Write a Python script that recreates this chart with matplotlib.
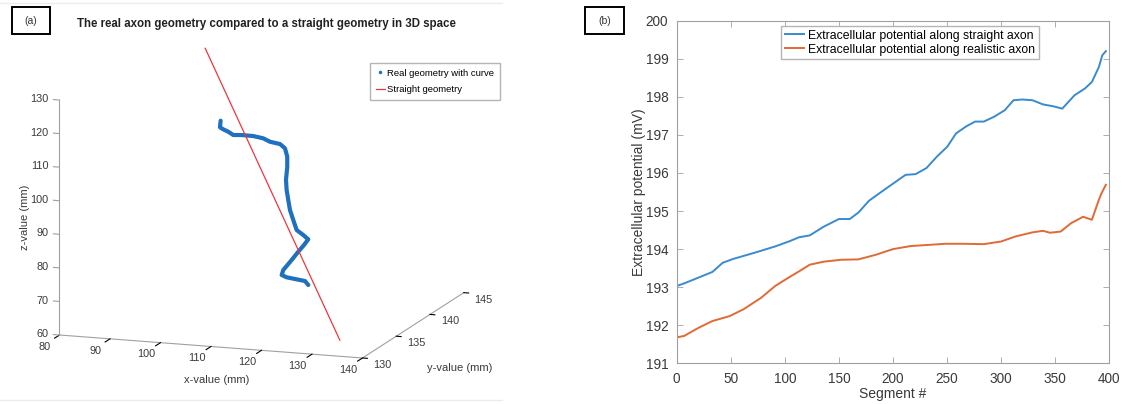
import numpy as np
import matplotlib
matplotlib.use("Agg")
import matplotlib.pyplot as plt
from matplotlib.lines import Line2D
from matplotlib.patches import Rectangle
from mpl_toolkits.mplot3d import proj3d

plt.rcParams["font.family"] = ["Liberation Sans", "DejaVu Sans"]

# ---------------- panel (a): axon geometry in 3D (mm) ----------------
real_x = [102.55, 102.42, 103.07, 104.06, 105.05, 106.71, 109.01, 110.99,
          112.32, 114.30, 115.29, 115.74, 115.74, 115.49, 115.62, 115.94,
          116.28, 116.93, 117.60, 118.91, 119.90, 119.05, 117.92, 116.61,
          114.95, 114.63, 115.62, 117.27, 119.25, 119.90]
real_y = [137.0] * 30
real_z = [117.33, 115.34, 114.82, 114.22, 113.35, 113.54, 113.50, 113.04,
          112.18, 111.72, 110.56, 108.11, 105.13, 101.13, 98.17, 95.23,
          92.29, 89.39, 86.48, 85.14, 83.97, 82.18, 80.05, 77.43,
          74.27, 72.74, 72.17, 71.85, 71.48, 70.36]

straight_x = [91.6, 131.1]
straight_y = [142.9, 133.3]
straight_z = [130.0, 60.0]

x_ticks = [80, 90, 100, 110, 120, 130, 140]
y_ticks = [130, 135, 140, 145]
z_ticks = [60, 70, 80, 90, 100, 110, 120, 130]

# ---------------- panel (b): extracellular potential (mV) ----------------
seg_straight = [0, 7, 20, 33, 42.5, 52, 71.5, 91, 103.7, 113, 123, 136, 150,
                160, 168, 177.8, 194, 211.6, 221, 231, 240.6, 250.2, 258.3,
                268, 276, 284, 293.7, 303.4, 311.4, 319.5, 329, 338.8, 348.5,
                356.5, 367.8, 377.5, 383.9, 390.3, 393.5, 396.8]
pot_straight = [193.03, 193.10, 193.25, 193.40, 193.64, 193.74, 193.90, 194.07,
                194.20, 194.31, 194.36, 194.59, 194.79, 194.79, 194.96, 195.27,
                195.60, 195.95, 195.97, 196.13, 196.43, 196.69, 197.04, 197.23,
                197.35, 197.35, 197.48, 197.65, 197.91, 197.93, 197.91, 197.80,
                197.75, 197.69, 198.04, 198.22, 198.39, 198.78, 199.09, 199.20]

seg_real = [0, 7, 20, 33, 49, 61.8, 78, 91, 100.5, 113.4, 123, 136, 152, 168,
            184, 200, 216.4, 232.5, 248.6, 264.7, 284, 300, 313, 329, 338.8,
            345, 355, 364.6, 375.8, 383.9, 390.3, 392.5, 396.8]
pot_real = [191.68, 191.72, 191.93, 192.11, 192.24, 192.42, 192.72, 193.03,
            193.20, 193.42, 193.59, 193.67, 193.72, 193.73, 193.85, 194.00,
            194.08, 194.11, 194.14, 194.14, 194.13, 194.20, 194.33, 194.44,
            194.48, 194.43, 194.46, 194.68, 194.85, 194.77, 195.29, 195.45,
            195.69]

BLUE = "#1f70bf"
RED = "#e8383d"
LINE_BLUE = "#3a8ad0"
LINE_ORANGE = "#e06a35"
AXIS_GREY = "#a0a0a0"
TEXT_GREY = "#3a3a3a"

W, H = 1125, 404
fig = plt.figure(figsize=(W / 100, H / 100), dpi=100)


def fx(px):
    return px / W


def fy(py):
    return 1 - py / H


# faint frame lines around the left panel
for yy in (3, 400):
    fig.add_artist(Line2D([fx(0), fx(502)], [fy(yy), fy(yy)], color="#ececec", lw=1))

# ---------------- 3D geometry panel ----------------
ax3 = fig.add_axes([0.0, 0.05, 0.42, 0.9], projection="3d", proj_type="ortho")
ax3.view_init(elev=12.78, azim=-71.07)
ax3.set_box_aspect((320.4, 312.3, 241.0))
ax3.set_xlim(80, 140)
ax3.set_ylim(130, 145)
ax3.set_zlim(60, 130)
ax3.set_xticks(x_ticks)
ax3.set_yticks(y_ticks)
ax3.set_zticks(z_ticks)
ax3.zaxis.set_ticks_position("lower")
ax3.zaxis.set_label_position("lower")
ax3.grid(False)
for axis in (ax3.xaxis, ax3.yaxis, ax3.zaxis):
    axis.set_pane_color((1, 1, 1, 0))
    axis.pane.set_edgecolor((1, 1, 1, 0))
    axis.line.set_color(AXIS_GREY)
    axis.line.set_linewidth(0.8)
    axis._axinfo["tick"]["outward_factor"] = 0.0
    axis._axinfo["tick"]["color"] = AXIS_GREY
ax3.xaxis._axinfo["tick"]["inward_factor"] = 0.6
ax3.yaxis._axinfo["tick"]["inward_factor"] = 0.2
ax3.zaxis._axinfo["tick"]["inward_factor"] = 0.0

ax3.plot(real_x, real_y, real_z, color=BLUE, lw=3.0, solid_capstyle="round",
         solid_joinstyle="round")
ax3.plot(straight_x, straight_y, straight_z, color=RED, lw=0.9)

# z tick marks pointing out from the vertical edge
for zv in z_ticks:
    ax3.plot([80, 78.8], [130, 130], [zv, zv], color=AXIS_GREY, lw=0.8)

# the built-in 3D tick labels are replaced by texts placed further down
for axis in (ax3.xaxis, ax3.yaxis, ax3.zaxis):
    axis.set_major_formatter(matplotlib.ticker.NullFormatter())

# place the box so that its corners land on the intended pixel positions
fig.canvas.draw()


def project(pt):
    xs, ys, _ = proj3d.proj_transform(*pt, ax3.M)
    return np.array(ax3.transData.transform((xs, ys)))


target_a = np.array([59.5, H - 335.0])
target_b = np.array([463.8, H - 57.7])
pa = project((80, 130, 60))
pb = project((140, 145, 130))
f = np.linalg.norm(target_b - target_a) / np.linalg.norm(pb - pa)
pos = ax3.get_position(original=True)
c = np.array([(pos.x0 + pos.width / 2) * W, (pos.y0 + pos.height / 2) * H])
c_new = target_a - f * (pa - c)
w_new, h_new = pos.width * f, pos.height * f
ax3.set_position([c_new[0] / W - w_new / 2, c_new[1] / H - h_new / 2, w_new, h_new])
fig.canvas.draw()

# tick labels, positioned through the 3D projection
TICK_FS = 7.8


def label_at(pt, s, ha):
    px, py = project(pt)
    fig.text(px / W, py / H, s, ha=ha, va="center", fontsize=TICK_FS, color=TEXT_GREY)


for zv in z_ticks:
    label_at((77.8, 130, zv), str(zv), "right")
for xv in x_ticks:
    label_at((xv, 127.84, 59.3), str(xv), "center")
for yv in y_ticks:
    label_at((143.9, yv, 58.4), str(yv), "center")

fig.text(fx(217), fy(380), "x-value (mm)", ha="center", va="center",
         fontsize=8, color=TEXT_GREY)
fig.text(fx(460), fy(368), "y-value (mm)", ha="center", va="center",
         fontsize=8, color=TEXT_GREY)
fig.text(fx(25), fy(217.5), "z-value (mm)", ha="center", va="center",
         rotation=90, fontsize=8, color=TEXT_GREY)

legend_handles = [
    Line2D([], [], color=BLUE, marker=".", linestyle="none", markersize=3),
    Line2D([], [], color=RED, lw=0.9),
]
fig.legend(legend_handles, ["Real geometry with curve", "Straight geometry"],
           loc="upper left", bbox_to_anchor=(fx(370), fy(63)),
           fontsize=6.8, frameon=True, fancybox=False, edgecolor="#b5b5b5",
           framealpha=1, handlelength=0.95, handletextpad=0.25,
           borderpad=0.6, labelspacing=0.82, borderaxespad=0)

fig.text(fx(266), fy(24.5), "The real axon geometry compared to a straight geometry in 3D space",
         ha="center", va="center", fontsize=8.3, fontweight="bold", color="#222222")

# ---------------- potential panel ----------------
AX_L, AX_R, AX_T, AX_B = 676.7, 1109.3, 20.7, 363.3
ax = fig.add_axes([fx(AX_L), fy(AX_B), (AX_R - AX_L) / W, (AX_B - AX_T) / H])
ax.plot(seg_straight, pot_straight, color=LINE_BLUE, lw=1.4,
        label="Extracellular potential along straight axon")
ax.plot(seg_real, pot_real, color=LINE_ORANGE, lw=1.4,
        label="Extracellular potential along realistic axon")
ax.set_xlim(0, 400)
ax.set_ylim(191, 200)
ax.set_xticks(range(0, 401, 50))
ax.set_yticks(range(191, 201))
ax.tick_params(direction="in", top=True, right=True, length=4, width=0.6,
               color=AXIS_GREY, labelcolor=TEXT_GREY, labelsize=9.8, pad=6)
for sp in ax.spines.values():
    sp.set_color(AXIS_GREY)
    sp.set_linewidth(0.8)
ax.set_xlabel("Segment #", fontsize=10, color=TEXT_GREY, labelpad=1)
ax.set_ylabel("Extracellular potential (mV)", fontsize=10, color=TEXT_GREY, labelpad=0)
ax.legend(loc="upper left",
          bbox_to_anchor=((781 - AX_L) / (AX_R - AX_L), (AX_B - 26) / (AX_B - AX_T)),
          fontsize=8.8, frameon=True, fancybox=False, edgecolor="#b5b5b5",
          framealpha=1, handlelength=1.6, handletextpad=0.3, borderpad=0.3,
          labelspacing=0.15, borderaxespad=0)

# panel tags
for x0, x1, tag in ((12, 50, "(a)"), (585, 624, "(b)")):
    fig.patches.append(Rectangle((fx(x0), fy(34.3)), (x1 - x0) / W, 27 / H,
                                 transform=fig.transFigure, fill=False,
                                 edgecolor="black", lw=1.4))
    fig.text(fx((x0 + x1) / 2), fy(21), tag, ha="center", va="center",
             fontsize=7.5, color="#333333")

fig.savefig("out.png", dpi=100)
